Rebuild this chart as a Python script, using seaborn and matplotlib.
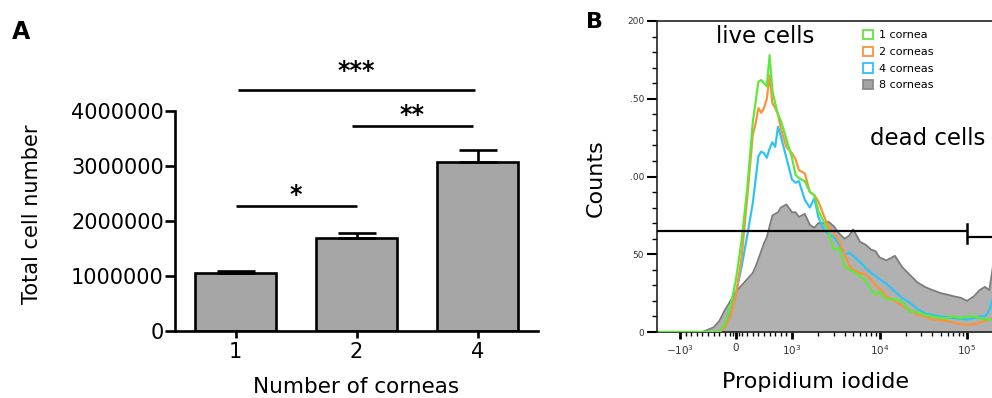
import numpy as np
import matplotlib
matplotlib.use("Agg")
import matplotlib.pyplot as plt
import seaborn as sns
from matplotlib.patches import Patch
from matplotlib.ticker import FixedLocator, NullFormatter

# ---------------- Panel A data ----------------
corneas = ["1", "2", "4"]
cell_mean = [1050000, 1697000, 3073000]
cell_err = [38000, 85000, 217000]
ytick_vals_a = [0, 1000000, 2000000, 3000000, 4000000]
sig_labels = ["*", "**", "***"]
sig_line_y = [2270000, 3730000, 4380000]

# ---------------- Panel B data ----------------
pi_x = [-1700, -1000, -600, -400, -300, -200, -100, 0, 100, 200, 300, 350, 400,
        450, 500, 550, 600, 650, 700, 750, 800, 900, 1000, 1100, 1200, 1400,
        1600, 1800, 2000, 2300, 2600, 3000, 3500, 4000, 4500, 5000, 6000, 7000,
        8000, 9000, 10000, 12000, 15000, 18000, 22000, 27000, 33000, 40000,
        50000, 60000, 70000, 85000, 100000, 120000, 140000, 160000, 180000,
        200000, 250000]
counts_1 = [0, 0, 0, 0, 0, 5, 16, 34, 59, 92, 135, 148, 161, 162, 160, 158, 178,
            155, 147, 140, 136, 124, 112, 101, 99, 97, 90, 88, 78, 71, 65, 53, 54,
            42, 40, 39, 36, 33, 27, 24, 26, 21, 21, 20, 13, 13, 11, 10, 9, 9, 10,
            9, 10, 10, 9, 8, 8, 8, 8]
counts_2 = [0, 0, 0, 0, 0, 3, 10, 24, 48, 86, 127, 134, 144, 141, 144, 150, 165,
            147, 144, 140, 131, 119, 115, 111, 104, 102, 90, 88, 84, 75, 68, 64,
            58, 50, 43, 40, 38, 37, 34, 30, 28, 23, 20, 17, 14, 11, 10, 8, 7.5, 7,
            6, 5, 4.5, 5, 6, 7, 8, 9, 10]
counts_4 = [0, 0, 0, 0, 0, 3, 12, 25, 42, 62, 83, 98, 113, 116, 115, 112, 118,
            122, 119, 132, 126, 112, 98, 96, 97, 85, 80, 86, 74, 66, 63, 61, 56,
            50, 51, 49, 45, 41, 38, 36, 34, 31, 26, 22, 19, 15, 12, 11, 10, 9.5, 9,
            8.5, 8, 9, 10, 10, 14, 23, 50]
counts_8 = [0, 0, 0, 3, 7, 14, 20, 26, 30, 34, 38, 42, 47, 52, 57, 61, 68, 75,
            76, 77, 80, 82, 77, 77, 74, 76, 69, 67, 70, 70, 71, 68, 63, 60, 62,
            66, 58, 56, 53, 52, 48, 46, 49, 42, 37, 32, 29, 27, 25, 24, 23, 22,
            20, 23, 27, 29, 27, 44, 80]
series_names = ["1 cornea", "2 corneas", "4 corneas", "8 corneas"]
xtick_vals_b = [-1000, 0, 1000, 10000, 100000]
xtick_labels_b = ["$-10^3$", "0", "$10^3$", "$10^4$", "$10^5$"]
ytick_vals_b = [0, 50, 100, 150, 200]
ytick_labels_b = ["0", "50", ".00", ".50", "200"]
gate_split = 100000
gate_live_y = 65
gate_dead_y = 61

# ---------------- layout helpers ----------------
W, H = 992, 398
fig = plt.figure(figsize=(W / 100, H / 100), dpi=100)


def fx(px):
    return px / W


def fy(py):
    return 1 - py / H


BLACK = "black"
LW_A = 1.9

# ================= Panel A =================
axA = fig.add_axes([fx(175), fy(331), (538 - 175) / W, (331 - 61.5) / H])
sns.barplot(x=corneas, y=cell_mean, color="#a6a6a6", saturation=1,
            edgecolor=BLACK, linewidth=LW_A, width=0.665, errorbar=None, ax=axA)
axA.errorbar(np.arange(len(corneas)), cell_mean,
             yerr=[np.zeros(len(corneas)), cell_err], fmt="none",
             ecolor=BLACK, elinewidth=LW_A, capsize=13.7, capthick=LW_A, zorder=1)
axA.set_xlim(-0.5, 2.5)
axA.set_ylim(0, 4.9e6)
for s in ["top", "right"]:
    axA.spines[s].set_visible(False)
for s in ["left", "bottom"]:
    axA.spines[s].set_linewidth(LW_A)
axA.spines["left"].set_bounds(0, 4e6)
axA.set_yticks(ytick_vals_a)
axA.set_yticklabels([str(v) for v in ytick_vals_a])
axA.tick_params(axis="both", direction="out", width=LW_A, labelsize=15, colors=BLACK)
axA.tick_params(axis="y", length=7, pad=1)
axA.tick_params(axis="x", length=5, pad=3)
axA.set_xlabel("")
axA.set_ylabel("")

sig_x0 = [0.0, 0.96, 0.02]
sig_x1 = [1.0, 1.96, 1.98]
sig_text_off = [73000, 73000, 223000]
for lab, y, a, b, off in zip(sig_labels, sig_line_y, sig_x0, sig_x1, sig_text_off):
    axA.plot([a, b], [y, y], color=BLACK, lw=LW_A, clip_on=False,
             solid_capstyle="butt")
    axA.text((a + b) / 2, y + off, lab, ha="center", va="baseline",
             fontsize=17, fontweight="bold", clip_on=False)

fig.text(fx(32), fy(214), "Total cell number", rotation=90, ha="center",
         va="center", fontsize=15)
fig.text(fx(356), fy(393), "Number of corneas", ha="center", va="baseline",
         fontsize=15.5)
fig.text(fx(12), fy(39), "A", ha="left", va="baseline", fontsize=17,
         fontweight="bold")

# ================= Panel B =================
axB = fig.add_axes([fx(657), fy(332), (1010 - 657) / W, 311 / H])
axB.set_xscale("symlog", linthresh=1000, linscale=0.576)
axB.set_xlim(-1832, 3.1e5)
axB.set_ylim(0, 200)

GREEN = "#5fe83a"
ORANGE = "#f8943c"
CYAN = "#2fc3f4"
GRAY_FILL = "#b1b1b1"
GRAY_EDGE = "#7c7c7c"

axB.fill_between(pi_x, counts_8, 0, color=GRAY_FILL, lw=0, zorder=1)
sns.lineplot(x=pi_x, y=counts_8, color=GRAY_EDGE, lw=1.3, ax=axB,
             estimator=None, sort=False, legend=False, zorder=2)
for cnt, col in [(counts_4, CYAN), (counts_2, ORANGE), (counts_1, GREEN)]:
    sns.lineplot(x=pi_x, y=cnt, color=col, lw=1.6, ax=axB, estimator=None,
                 sort=False, legend=False, zorder=3)

xl = axB.get_xlim()
axB.plot([xl[0], gate_split], [gate_live_y, gate_live_y], color=BLACK, lw=1.6,
         zorder=5, solid_capstyle="butt")
axB.plot([gate_split, gate_split], [gate_live_y - 8, gate_live_y + 4.5],
         color=BLACK, lw=1.8, zorder=5)
axB.plot([gate_split, xl[1]], [gate_dead_y, gate_dead_y], color=BLACK, lw=1.6,
         zorder=5, solid_capstyle="butt")

axB.spines["right"].set_visible(False)
for s in ["left", "bottom", "top"]:
    axB.spines[s].set_linewidth(1.2)
    axB.spines[s].set_color("#222222")
axB.set_xlabel("")
axB.set_ylabel("")

axB.xaxis.set_major_locator(FixedLocator(xtick_vals_b))
axB.set_xticklabels(xtick_labels_b)
minor_x = ([-v for v in range(100, 1000, 100)] + [-50, 50] +
           list(range(100, 1000, 100)) + list(range(2000, 10000, 1000)) +
           list(range(20000, 100000, 10000)) + [200000, 300000])
axB.xaxis.set_minor_locator(FixedLocator(minor_x))
axB.xaxis.set_minor_formatter(NullFormatter())
axB.yaxis.set_major_locator(FixedLocator(ytick_vals_b))
axB.set_yticklabels(ytick_labels_b)
axB.yaxis.set_minor_locator(FixedLocator(list(range(10, 200, 10))))
axB.yaxis.set_minor_formatter(NullFormatter())
axB.tick_params(axis="x", which="major", direction="out", length=5, width=2,
                labelsize=7.5, labelcolor="#333333", pad=3)
axB.tick_params(axis="x", which="minor", direction="out", length=3, width=1)
axB.tick_params(axis="y", which="major", direction="out", length=7.2, width=1.5,
                labelsize=6.5, labelcolor="#333333", pad=2)
axB.tick_params(axis="y", which="minor", direction="out", length=3.6, width=1)

fig.text(fx(765), fy(43), "live cells", ha="center", va="baseline", fontsize=16.5)
fig.text(fx(870), fy(145), "dead cells", ha="left", va="baseline", fontsize=16.5)
fig.text(fx(596), fy(178), "Counts", rotation=90, ha="center", va="center",
         fontsize=16)
fig.text(fx(815), fy(388), "Propidium iodide", ha="center", va="baseline",
         fontsize=16)
fig.text(fx(586), fy(28), "B", ha="left", va="baseline", fontsize=16,
         fontweight="bold")

handles = [Patch(facecolor="white", edgecolor=GREEN, lw=1.3),
           Patch(facecolor="white", edgecolor=ORANGE, lw=1.3),
           Patch(facecolor="white", edgecolor=CYAN, lw=1.3),
           Patch(facecolor="#a3a3a3", edgecolor="#8a8a8a", lw=1.3)]
fig.legend(handles, series_names, loc="upper left",
           bbox_to_anchor=(fx(863), fy(30)), frameon=False, fontsize=8,
           handlelength=0.9, handleheight=0.9, handletextpad=0.55,
           labelspacing=0.56, borderaxespad=0, borderpad=0)

fig.savefig("out.png", dpi=100)
